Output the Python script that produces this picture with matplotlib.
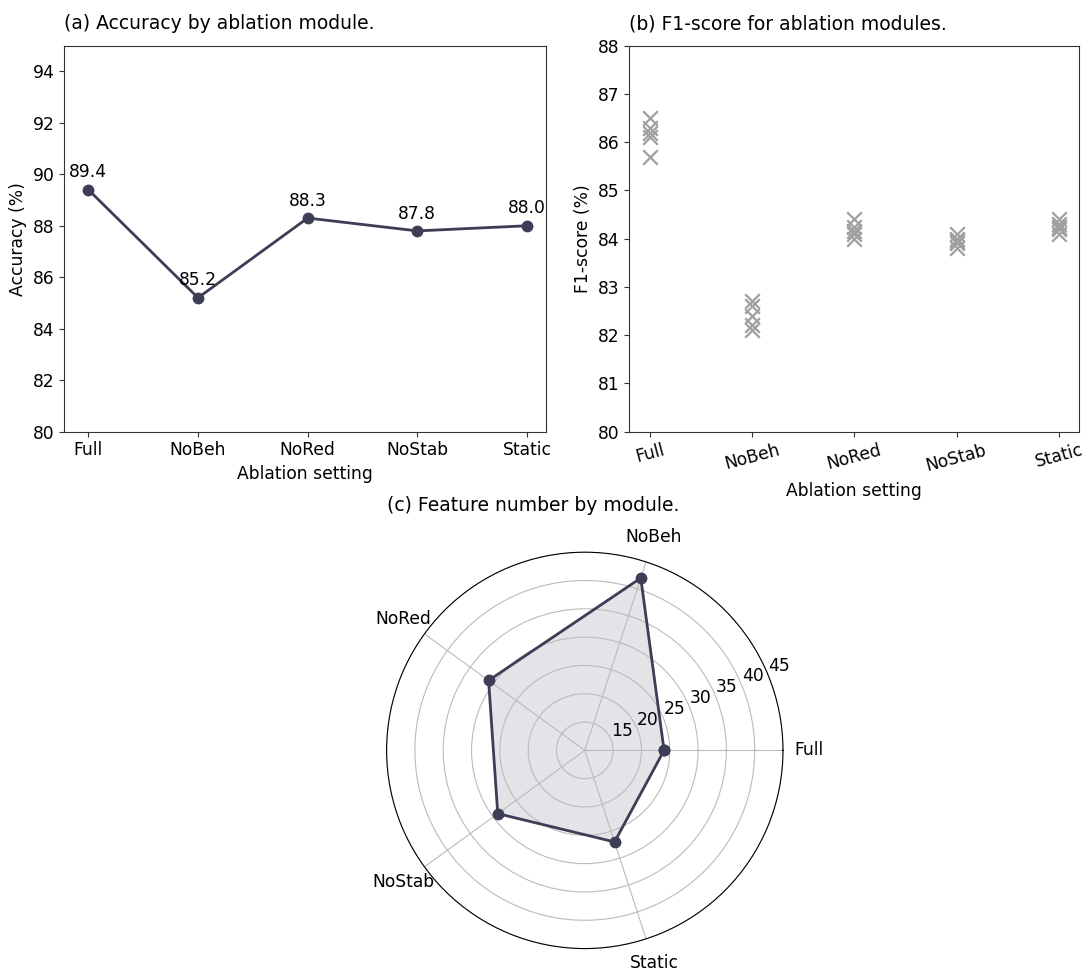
import numpy as np
import matplotlib
matplotlib.use("Agg")
import matplotlib.pyplot as plt

settings = ["Full", "NoBeh", "NoRed", "NoStab", "Static"]
accuracy = [89.4, 85.2, 88.3, 87.8, 88.0]

# F1 per run (5 runs each)
f1_full = [86.5, 86.3, 86.2, 86.1, 85.7]
f1_nobeh = [82.7, 82.6, 82.4, 82.2, 82.1]
f1_nored = [84.4, 84.25, 84.15, 84.1, 84.0]
f1_nostab = [84.1, 84.0, 83.95, 83.9, 83.8]
f1_static = [84.4, 84.3, 84.25, 84.2, 84.1]
f1_runs = [f1_full, f1_nobeh, f1_nored, f1_nostab, f1_static]

features = [24, 42, 31, 29, 27]

dark = "#3d3d55"
spine_c = "#333333"
fs = 12.3

fig = plt.figure(figsize=(10.89, 9.72), dpi=100)

# (a) accuracy line
ax1 = fig.add_axes([0.059, 0.556, 0.442, 0.397])
x = np.arange(len(settings))
ax1.plot(x, accuracy, color=dark, lw=2, marker="o", ms=7.5)
for xi, v in zip(x, accuracy):
    ax1.annotate(f"{v:.1f}", (xi, v), xytext=(0, 6), textcoords="offset points",
                 ha="center", va="bottom", fontsize=fs)
ax1.set_ylim(80, 95)
ax1.set_xlim(-0.22, 4.17)
ax1.set_xticks(x)
ax1.set_xticklabels(settings, fontsize=fs)
ax1.tick_params(axis="y", labelsize=fs)
ax1.set_ylabel("Accuracy (%)", fontsize=fs)
ax1.set_xlabel("Ablation setting", fontsize=fs, labelpad=4)
ax1.set_title("(a) Accuracy by ablation module.", loc="left", fontsize=13.5, pad=12)

# (b) f1 scatter
ax2 = fig.add_axes([0.578, 0.556, 0.413, 0.397])
for i, runs in enumerate(f1_runs):
    ax2.scatter([i] * len(runs), runs, marker="x", s=110, color="#a0a0a0", lw=1.6)
ax2.set_ylim(80, 88)
ax2.set_xticks(x)
ax2.set_xticklabels(settings, fontsize=fs, rotation=15)
ax2.tick_params(axis="y", labelsize=fs)
ax2.set_ylabel("F1-score (%)", fontsize=fs)
ax2.set_xlabel("Ablation setting", fontsize=fs, labelpad=5)
ax2.set_title("(b) F1-score for ablation modules.", loc="left", fontsize=13.5, pad=12)

for ax in (ax1, ax2):
    for s in ax.spines.values():
        s.set_color(spine_c)
    ax.tick_params(color=spine_c)

# (c) radar
ax3 = fig.add_axes([0.355, 0.024, 0.364, 0.408], projection="polar")
ang = np.linspace(0, 2 * np.pi, len(settings), endpoint=False)
ang_c = np.append(ang, ang[0])
vals_c = np.append(features, features[0])
ax3.plot(ang_c, vals_c, color=dark, lw=2, marker="o", ms=7.5)
ax3.fill(ang_c, vals_c, color="#c8cad0", alpha=0.5)
ax3.set_ylim(10, 45)
ax3.set_yticks([15, 20, 25, 30, 35, 40, 45])
ax3.set_rlabel_position(22.5)
ax3.tick_params(axis="y", labelsize=fs)
ax3.set_xticks(ang)
ax3.set_xticklabels(settings, fontsize=fs)
ax3.tick_params(axis="x", pad=8)
ax3.grid(color="#bbbbbb")
fig.text(0.355, 0.474, "(c) Feature number by module.", fontsize=13.5)

fig.savefig("out.png", dpi=100)
